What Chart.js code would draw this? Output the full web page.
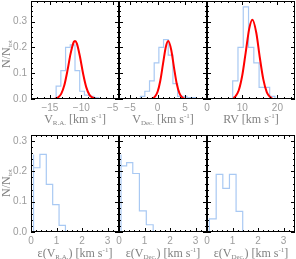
<!DOCTYPE html>
<html>
<head>
<meta charset="utf-8">
<script src="https://cdn.jsdelivr.net/npm/chart.js@4.4.1/dist/chart.umd.min.js"></script>
<style>
  html, body { margin: 0; padding: 0; background: #fff; }
  #wrap { position: relative; width: 296px; height: 259px; overflow: hidden; }
  #wrap canvas { position: absolute; }
  .lbl { position: absolute; font-family: "Liberation Serif", serif; font-size: 12px; color: #808080;
         white-space: nowrap; transform: translate(-50%, -50%); line-height: 12px; opacity: 0.99; }
  .lbl sub { font-size: 7px; vertical-align: -2px; line-height: 0; }
  .lbl sup { font-size: 7px; vertical-align: 5px; line-height: 0; }
  .rot { transform: translate(-50%, -50%) rotate(-90deg); }
</style>
</head>
<body>
<div id="wrap"></div>
<div id="titles" style="display:none">
  <div class="lbl" style="left:75px;top:119px">V<sub>R.A.</sub> [km s<sup>-1</sup>]</div>
  <div class="lbl" style="left:163px;top:119px">V<sub>Dec.</sub> [km s<sup>-1</sup>]</div>
  <div class="lbl" style="left:251px;top:119px">RV [km s<sup>-1</sup>]</div>
  <div class="lbl" style="left:75px;top:253px">ε(V<sub>R.A.</sub>) [km s<sup>-1</sup>]</div>
  <div class="lbl" style="left:163px;top:253px">ε(V<sub>Dec.</sub>) [km s<sup>-1</sup>]</div>
  <div class="lbl" style="left:251px;top:253px">ε(V<sub>Dec.</sub>) [km s<sup>-1</sup>]</div>
  <div class="lbl rot" style="left:6px;top:54px">N/N<sub>tot</sub></div>
  <div class="lbl rot" style="left:6px;top:183px">N/N<sub>tot</sub></div>
</div>
<script>
// ---- top row: velocity histograms (bin edges, fraction per bin) + gaussian fit
const raEdges = [-14.0, -13.25, -12.5, -11.75, -11.0, -10.25, -9.5, -8.75, -8.0, -7.25, -6.5];
const raHist  = [0.01, 0.05, 0.11, 0.20, 0.21, 0.11, 0.03, 0.015, 0.01, 0.005];
const raFitX  = [-14.2, -13.7, -13.2, -12.7, -12.2, -11.7, -11.2, -11.0, -10.7, -10.2, -9.7, -9.2, -8.7, -8.2, -7.7];
const raFitY  = [0.001, 0.006, 0.020, 0.053, 0.110, 0.176, 0.221, 0.225, 0.215, 0.163, 0.097, 0.045, 0.016, 0.005, 0.001];

const decEdges = [-3.1, -2.3, -1.45, -0.6, 0.25, 1.1, 1.95, 2.8, 3.65, 4.5, 5.35, 6.2, 7.05, 7.9];
const decHist  = [0.005, 0.01, 0.03, 0.07, 0.14, 0.20, 0.23, 0.17, 0.06, 0.01, 0.01, 0.005, 0.005];
const decFitX  = [-1, -0.5, 0, 0.5, 1, 1.5, 1.95, 2.5, 3, 3.5, 4, 4.5, 5];
const decFitY  = [0.002, 0.008, 0.027, 0.070, 0.136, 0.201, 0.225, 0.190, 0.122, 0.059, 0.022, 0.006, 0.001];

const rvEdges = [7.3, 8.8, 10.3, 11.8, 13.3, 14.8, 16.3, 17.8, 19.3, 20.8];
const rvHist  = [0.01, 0.07, 0.20, 0.357, 0.20, 0.14, 0.045, 0.045, 0.01];
const rvFitX  = [7.5, 8, 9, 10, 11, 12, 12.9, 14, 15, 16, 17, 18, 18.5];
const rvFitY  = [0.004, 0.009, 0.033, 0.090, 0.181, 0.273, 0.307, 0.257, 0.161, 0.076, 0.026, 0.007, 0.003];

// ---- bottom row: error histograms
const eRaEdges  = [0.1, 0.35, 0.6, 0.85, 1.1, 1.35, 1.6];
const eRaHist   = [0.256, 0.212, 0.256, 0.157, 0.09, 0.022];
const eDecEdges = [0.08, 0.3, 0.54, 0.8, 1.07, 1.34, 1.59];
const eDecHist  = [0.256, 0.218, 0.229, 0.193, 0.07, 0.024];
const eRvEdges  = [0.09, 0.36, 0.62, 0.88, 1.14, 1.4, 1.64];
const eRvHist   = [0.018, 0.043, 0.19, 0.144, 0.19, 0.068];

// ---- tick labels
const xTicksRA  = [-15, -10, -5];
const xTicksDec = [-5, 0, 5];
const xTicksRV  = [0, 10, 20];
const xTicksErr = [0, 1, 2, 3];
const yTicksTop = [0, 0.1, 0.2, 0.3];
const yTicksBot = [0, 0.1, 0.2, 0.3];

const PW = 88, XH = 20;
const HIST_COLOR = '#a9c9f3';
const FIT_COLOR = '#ff0000';
const TICK_COLOR = '#9c9c9c';

function stepPoints(edges, vals) {
  const pts = [{ x: edges[0], y: 0 }];
  vals.forEach((v, i) => pts.push({ x: edges[i], y: v }));
  pts.push({ x: edges[edges.length - 1], y: 0 });
  return pts;
}
function zip(xs, ys) { return xs.map((x, i) => ({ x: x, y: ys[i] })); }
function fmtX(v) { return v < 0 ? '\u2212' + Math.abs(v) : String(v); }

// black box with inward major/minor ticks on all four sides (IDL style)
const framePlugin = {
  id: 'frame',
  afterDraw(chart, args, o) {
    const { ctx, chartArea: a, scales: { x, y } } = chart;
    ctx.save();
    ctx.strokeStyle = '#000';
    ctx.lineWidth = 1;
    ctx.strokeRect(a.left + 0.5, a.top + 0.5, a.right - a.left - 1, a.bottom - a.top - 1);
    ctx.beginPath();
    const xm = o.xMinor, ym = o.yMinor;
    for (let v = Math.ceil(x.min / xm - 1e-6) * xm; v <= x.max + 1e-9; v += xm) {
      const major = o.xTicks.some(t => Math.abs(t - v) < xm / 10);
      const len = major ? 4 : 2;
      const px = Math.round(x.getPixelForValue(v)) + 0.5;
      ctx.moveTo(px, a.bottom); ctx.lineTo(px, a.bottom - len);
      ctx.moveTo(px, a.top); ctx.lineTo(px, a.top + len);
    }
    for (let v = 0; v <= y.max + 1e-9; v += ym) {
      const major = o.yTicks.some(t => Math.abs(t - v) < ym / 10);
      const len = major ? 4 : 2;
      const py = Math.round(y.getPixelForValue(v)) + 0.5;
      ctx.moveTo(a.left, py); ctx.lineTo(a.left + len, py);
      ctx.moveTo(a.right, py); ctx.lineTo(a.right - len, py);
    }
    ctx.stroke();
    ctx.restore();
  }
};

// one canvas per panel, placed over its own part of the page
function panel(col, rowTop, top, bottom, xr, xTicks, xMinor, ymax, yTicks, hist, fit) {
  const plotLeft = 31 + col * PW;
  const ox = col === 0 ? 0 : plotLeft - 6;
  const cw = Math.min(296, plotLeft + PW + 6) - ox;
  const ch = bottom + XH + 2 - rowTop;
  const areaLeft = plotLeft - ox;
  const canvas = document.createElement('canvas');
  canvas.width = cw; canvas.height = ch;
  canvas.style.left = ox + 'px'; canvas.style.top = rowTop + 'px';
  document.getElementById('wrap').appendChild(canvas);

  const datasets = [];
  if (fit) {
    datasets.push({ data: fit, borderColor: FIT_COLOR, borderWidth: 2, pointRadius: 0,
                    cubicInterpolationMode: 'monotone', fill: false });
  }
  datasets.push({ data: hist, borderColor: HIST_COLOR, borderWidth: 1.2, pointRadius: 0,
                  stepped: 'after', fill: false });
  const tickFont = { family: 'Liberation Sans', size: 10 };
  new Chart(canvas, {
    type: 'line',
    data: { datasets: datasets },
    plugins: [framePlugin],
    options: {
      responsive: false, animation: false, events: [],
      layout: { padding: { left: 0, right: cw - areaLeft - PW, top: top - rowTop, bottom: 2 } },
      plugins: {
        legend: { display: false }, tooltip: { enabled: false },
        frame: { xMinor: xMinor, yMinor: 0.02, xTicks: xTicks, yTicks: yTicks }
      },
      scales: {
        x: {
          type: 'linear', min: xr[0], max: xr[1],
          grid: { display: false, drawTicks: false }, border: { display: false },
          afterBuildTicks: s => { s.ticks = xTicks.map(v => ({ value: v })); },
          afterFit: s => { s.height = XH; s.paddingLeft = 0; s.paddingRight = 0; },
          ticks: { color: TICK_COLOR, font: tickFont, padding: 3, maxRotation: 0,
                   autoSkip: false, callback: fmtX }
        },
        y: {
          type: 'linear', position: 'left', min: 0, max: ymax,
          grid: { display: false, drawTicks: false }, border: { display: false },
          afterBuildTicks: s => { s.ticks = yTicks.map(v => ({ value: v })); },
          afterFit: s => { s.width = areaLeft; s.paddingTop = 0; s.paddingBottom = 0; },
          ticks: { display: col === 0, color: TICK_COLOR, font: tickFont, padding: 4,
                   autoSkip: false, callback: v => Number(v).toFixed(1) }
        }
      }
    }
  });
}

panel(0, 0, 1, 99, [-18, -4], xTicksRA, 1, 0.38, yTicksTop, stepPoints(raEdges, raHist), zip(raFitX, raFitY));
panel(1, 0, 1, 99, [-7, 9], xTicksDec, 1, 0.38, yTicksTop, stepPoints(decEdges, decHist), zip(decFitX, decFitY));
panel(2, 0, 1, 99, [0, 25], xTicksRV, 2, 0.38, yTicksTop, stepPoints(rvEdges, rvHist), zip(rvFitX, rvFitY));

panel(0, 126, 135, 232, [0, 3.45], xTicksErr, 0.2, 0.32, yTicksBot, stepPoints(eRaEdges, eRaHist), null);
panel(1, 126, 135, 232, [0, 3.45], xTicksErr, 0.2, 0.32, yTicksBot, stepPoints(eDecEdges, eDecHist), null);
panel(2, 126, 135, 232, [0, 3.45], xTicksErr, 0.2, 0.32, yTicksBot, stepPoints(eRvEdges, eRvHist), null);

// axis titles go on top of the canvases
const titles = document.getElementById('titles');
Array.from(titles.children).forEach(el => document.getElementById('wrap').appendChild(el));
</script>
</body>
</html>
